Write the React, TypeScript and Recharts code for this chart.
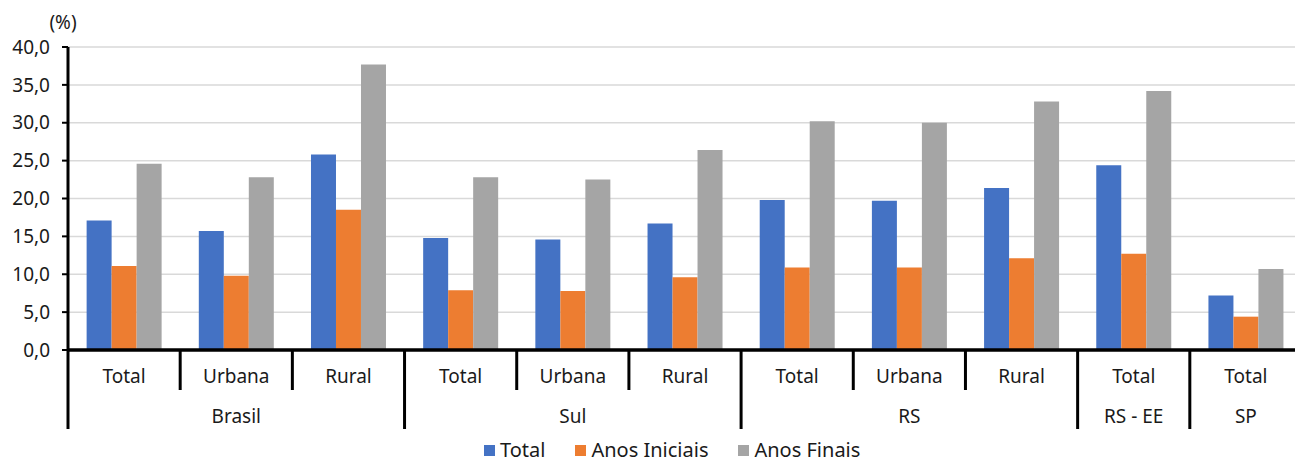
import React from 'react';
import { BarChart, Bar, CartesianGrid, XAxis, YAxis, Legend } from 'recharts';

const categories = ['Total', 'Urbana', 'Rural', 'Total', 'Urbana', 'Rural', 'Total', 'Urbana', 'Rural', 'Total', 'Total'];
const groupNames = ['Brasil', 'Sul', 'RS', 'RS - EE', 'SP'];
const groupSizes = [3, 3, 3, 1, 1];

const totalValues = [17.1, 15.7, 25.8, 14.8, 14.6, 16.7, 19.8, 19.7, 21.4, 24.4, 7.2];
const iniciaisValues = [11.1, 9.8, 18.5, 7.9, 7.8, 9.6, 10.9, 10.9, 12.1, 12.7, 4.4];
const finaisValues = [24.6, 22.8, 37.7, 22.8, 22.5, 26.4, 30.2, 30.0, 32.8, 34.2, 10.7];

const yTicks = [0, 5, 10, 15, 20, 25, 30, 35, 40];

const seriesNames = ['Total', 'Anos Iniciais', 'Anos Finais'];
const seriesColors = ['#4472C4', '#ED7D31', '#A5A5A5'];

const FONT = '"Noto Sans", "Open Sans", sans-serif';
const WIDTH = 1302;
const HEIGHT = 462;
const Y_AXIS_W = 68;
const BAND = (WIDTH - Y_AXIS_W) / categories.length;

// category index -> group index
const groupOf: number[] = [];
groupSizes.forEach((n, g) => {
  for (let i = 0; i < n; i++) groupOf.push(g);
});
const groupStart = groupSizes.map((_, g) => groupOf.indexOf(g));

const data = categories.map((cat, i) => ({
  key: `${groupNames[groupOf[i]]}|${cat}|${i}`,
  total: totalValues[i],
  iniciais: iniciaisValues[i],
  finais: finaisValues[i],
}));

function MultiTick(props: any) {
  const { x, y, payload } = props;
  const idx = data.findIndex((d) => d.key === payload.value);
  if (idx < 0) return null;
  const g = groupOf[idx];
  const isStart = groupStart[g] === idx;
  const isMiddle = groupStart[g] + Math.floor(groupSizes[g] / 2) === idx;
  const left = x - BAND / 2;
  return (
    <g>
      <line x1={left} x2={left} y1={y} y2={y + (isStart ? 79 : 40)} stroke="#000" strokeWidth={3} />
      <text x={x} y={y + 26} textAnchor="middle" dy="0.35em" fontSize={19} fill="#1a1a1a" fontFamily={FONT}>
        {categories[idx]}
      </text>
      {isMiddle && (
        <text x={x} y={y + 66} textAnchor="middle" dy="0.35em" fontSize={19} fill="#1a1a1a" fontFamily={FONT}>
          {groupNames[g]}
        </text>
      )}
    </g>
  );
}

function LegendContent() {
  return (
    <div style={{ display: 'flex', paddingLeft: 484, paddingTop: 7, fontFamily: FONT, fontSize: 20, color: '#1a1a1a', lineHeight: '22px' }}>
      {seriesNames.map((name, i) => (
        <div key={name} style={{ display: 'flex', alignItems: 'center', marginRight: 30 }}>
          <span style={{ width: 11, height: 11, background: seriesColors[i], display: 'inline-block', marginRight: 5 }} />
          <span>{name}</span>
        </div>
      ))}
    </div>
  );
}

export default function App(): JSX.Element {
  return (
    <div style={{ position: 'absolute', left: 0, top: 0, width: 1295, height: HEIGHT, overflow: 'hidden', background: '#fff' }}>
      <BarChart
        width={WIDTH}
        height={HEIGHT}
        data={data}
        margin={{ top: 47, right: 0, bottom: 0, left: 0 }}
        barCategoryGap="16.6%"
        barGap={0}
      >
        <CartesianGrid stroke="#d9d9d9" strokeWidth={1.5} vertical={false} />
        <XAxis
          dataKey="key"
          interval={0}
          height={82}
          tickSize={0}
          tickMargin={0}
          tickLine={false}
          axisLine={{ stroke: '#000', strokeWidth: 3.5 }}
          tick={<MultiTick />}
        />
        <YAxis
          width={Y_AXIS_W}
          domain={[0, 40]}
          ticks={yTicks}
          interval={0}
          tickFormatter={(v: number) => v.toFixed(1).replace('.', ',')}
          tick={{ fill: '#1a1a1a', fontSize: 19, fontFamily: FONT }}
          tickSize={6}
          tickMargin={12}
          tickLine={{ stroke: '#000', strokeWidth: 2 }}
          axisLine={{ stroke: '#000', strokeWidth: 3 }}
        />
        <Legend verticalAlign="bottom" height={30} width={WIDTH} wrapperStyle={{ left: 0 }} content={<LegendContent />} />
        <Bar dataKey="total" name={seriesNames[0]} fill={seriesColors[0]} isAnimationActive={false} />
        <Bar dataKey="iniciais" name={seriesNames[1]} fill={seriesColors[1]} isAnimationActive={false} />
        <Bar dataKey="finais" name={seriesNames[2]} fill={seriesColors[2]} isAnimationActive={false} />
        <text x={63} y={22} textAnchor="middle" dy="0.35em" fontSize={19} fill="#1a1a1a" fontFamily={FONT}>
          (%)
        </text>
      </BarChart>
    </div>
  );
}
